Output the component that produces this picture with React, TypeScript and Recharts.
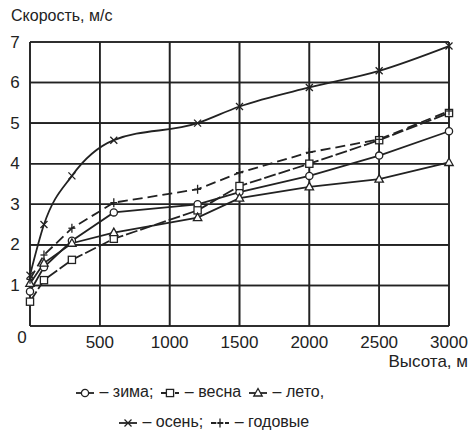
import React from 'react';
import { LineChart, Line, XAxis, YAxis, CartesianGrid } from 'recharts';

const heights = [0, 100, 300, 600, 1200, 1500, 2000, 2500, 3000];
const winter = [0.85, 1.45, 2.1, 2.8, 3.0, 3.3, 3.7, 4.2, 4.8];
const spring = [0.6, 1.13, 1.63, 2.15, 2.85, 3.45, 4.0, 4.58, 5.25];
const summer = [1.05, 1.55, 2.04, 2.3, 2.67, 3.15, 3.43, 3.62, 4.03];
const autumn = [1.25, 2.5, 3.7, 4.58, 5.0, 5.41, 5.88, 6.29, 6.9];
const annual = [1.15, 1.75, 2.41, 3.04, 3.37, 3.78, 4.28, 4.6, 5.3];

const xTicks = [0, 500, 1000, 1500, 2000, 2500, 3000];
const yTicks = [0, 1, 2, 3, 4, 5, 6, 7];

const data = heights.map((h, i) => ({
  h,
  winter: winter[i],
  spring: spring[i],
  summer: summer[i],
  autumn: autumn[i],
  annual: annual[i],
}));

// grid lines built from the tick arrays, drawn through the chart's own scales
const yMin = yTicks[0];
const yMax = yTicks[yTicks.length - 1];
const xMin = xTicks[0];
const xMax = xTicks[xTicks.length - 1];
const gridVertical = xTicks.map((x) => [{ h: x, g: yMin }, { h: x, g: yMax }]);
const gridHorizontal = yTicks.map((y) => [{ h: xMin, g: y }, { h: xMax, g: y }]);

const INK = '#222';
const FONT = '"Liberation Sans", Arial, sans-serif';

type Shape = 'circle' | 'square' | 'triangle' | 'cross' | 'plus';

const drawMarker = (shape: Shape, cx: number, cy: number, key?: any) => {
  const s = { stroke: INK, strokeWidth: 1.3, fill: '#fff' };
  switch (shape) {
    case 'circle':
      return <circle key={key} cx={cx} cy={cy} r={3.6} {...s} />;
    case 'square':
      return <rect key={key} x={cx - 3.6} y={cy - 3.6} width={7.2} height={7.2} {...s} />;
    case 'triangle':
      return <path key={key} d={`M${cx},${cy - 4.5}L${cx + 4.2},${cy + 3}L${cx - 4.2},${cy + 3}Z`} {...s} />;
    case 'cross':
      return (
        <g key={key}>
          <line x1={cx - 3.5} y1={cy - 3.5} x2={cx + 3.5} y2={cy + 3.5} stroke={INK} strokeWidth={1.3} />
          <line x1={cx - 3.5} y1={cy + 3.5} x2={cx + 3.5} y2={cy - 3.5} stroke={INK} strokeWidth={1.3} />
        </g>
      );
    case 'plus':
    default:
      return (
        <g key={key}>
          <line x1={cx} y1={cy - 4.5} x2={cx} y2={cy + 4.5} stroke={INK} strokeWidth={1.3} />
          <line x1={cx - 3.5} y1={cy} x2={cx + 3.5} y2={cy} stroke={INK} strokeWidth={1.3} />
        </g>
      );
  }
};

const series = [
  { key: 'winter', name: 'зима;', shape: 'circle' as Shape, dash: undefined, type: 'linear' },
  { key: 'spring', name: 'весна', shape: 'square' as Shape, dash: '12 3', type: 'linear' },
  { key: 'summer', name: 'лето,', shape: 'triangle' as Shape, dash: undefined, type: 'linear' },
  { key: 'autumn', name: 'осень;', shape: 'cross' as Shape, dash: undefined, type: 'monotone' },
  { key: 'annual', name: 'годовые', shape: 'plus' as Shape, dash: '10 5', type: 'linear' },
];

const legendRows = [
  { items: [0, 1, 2], left: 75 },
  { items: [3, 4], left: 118 },
];

const LegendIcon = ({ idx }: { idx: number }) => {
  const s = series[idx];
  return (
    <svg width={20} height={12} style={{ verticalAlign: 'middle' }}>
      <line x1={1} y1={6} x2={19} y2={6} stroke={INK} strokeWidth={1.8} strokeDasharray={s.dash ? '5 2' : undefined} />
      {drawMarker(s.shape, 10, 6)}
    </svg>
  );
};

const LegendBlock = () => (
  <div style={{ position: 'absolute', left: 0, top: 377, width: 473, fontFamily: FONT, fontSize: 16, color: INK, lineHeight: '30px' }}>
    {legendRows.map((row, ri) => (
      <div key={ri} style={{ paddingLeft: row.left, whiteSpace: 'nowrap' }}>
        {row.items.map((idx) => (
          <span key={idx} style={{ marginRight: 7, whiteSpace: 'nowrap' }}>
            <LegendIcon idx={idx} /> – {series[idx].name}
          </span>
        ))}
      </div>
    ))}
  </div>
);

const YTick = (props: any) => {
  const { y, payload } = props;
  const isZero = payload.value === 0;
  return (
    <text x={isZero ? 22 : 15} y={isZero ? y + 11 : y} textAnchor="middle" dominantBaseline="central" fontFamily={FONT} fontSize={17} fill={INK}>
      {payload.value}
    </text>
  );
};

const XTick = (props: any) => {
  const { x, y, payload } = props;
  if (payload.value === 0) return null;
  return (
    <text x={x} y={y + 8} textAnchor="middle" dominantBaseline="central" fontFamily={FONT} fontSize={17} fill={INK}>
      {payload.value}
    </text>
  );
};

export default function App() {
  return (
    <div style={{ position: 'absolute', left: 0, top: 0, width: 473, height: 437, background: '#fff' }}>
      <LineChart width={473} height={437} data={data} margin={{ top: 42, right: 24, left: 0, bottom: 91 }}>
        <CartesianGrid stroke={INK} strokeWidth={1.6} />
        <XAxis
          dataKey="h"
          type="number"
          domain={[xMin, xMax]}
          ticks={xTicks}
          interval={0}
          tick={<XTick />}
          axisLine={false}
          tickLine={false}
          height={20}
          allowDuplicatedCategory={false}
        />
        <YAxis
          type="number"
          domain={[yMin, yMax]}
          ticks={yTicks}
          interval={0}
          tick={<YTick />}
          axisLine={false}
          tickLine={false}
          width={30}
        />
        {gridVertical.map((seg, i) => (
          <Line
            key={`gv${i}`}
            data={seg}
            dataKey="g"
            type="linear"
            stroke={INK}
            strokeWidth={1.6}
            dot={false}
            activeDot={false}
            legendType="none"
            isAnimationActive={false}
          />
        ))}
        {gridHorizontal.map((seg, i) => (
          <Line
            key={`gh${i}`}
            data={seg}
            dataKey="g"
            type="linear"
            stroke={INK}
            strokeWidth={1.6}
            dot={false}
            activeDot={false}
            legendType="none"
            isAnimationActive={false}
          />
        ))}
        {series.map((s) => (
          <Line
            key={s.key}
            dataKey={s.key}
            type={s.type as any}
            stroke={INK}
            strokeWidth={1.8}
            strokeDasharray={s.dash}
            isAnimationActive={false}
            dot={(p: any) => drawMarker(s.shape, p.cx, p.cy, `${s.key}-${p.index}`)}
            activeDot={false}
          />
        ))}
      </LineChart>
      <div style={{ position: 'absolute', left: 11, top: 7, fontFamily: FONT, fontSize: 16, color: INK, whiteSpace: 'nowrap' }}>
        Скорость, м/с
      </div>
      <div style={{ position: 'absolute', right: 5, top: 352, fontFamily: FONT, fontSize: 17, color: INK, whiteSpace: 'nowrap' }}>
        Высота, м
      </div>
      <LegendBlock />
    </div>
  );
}
